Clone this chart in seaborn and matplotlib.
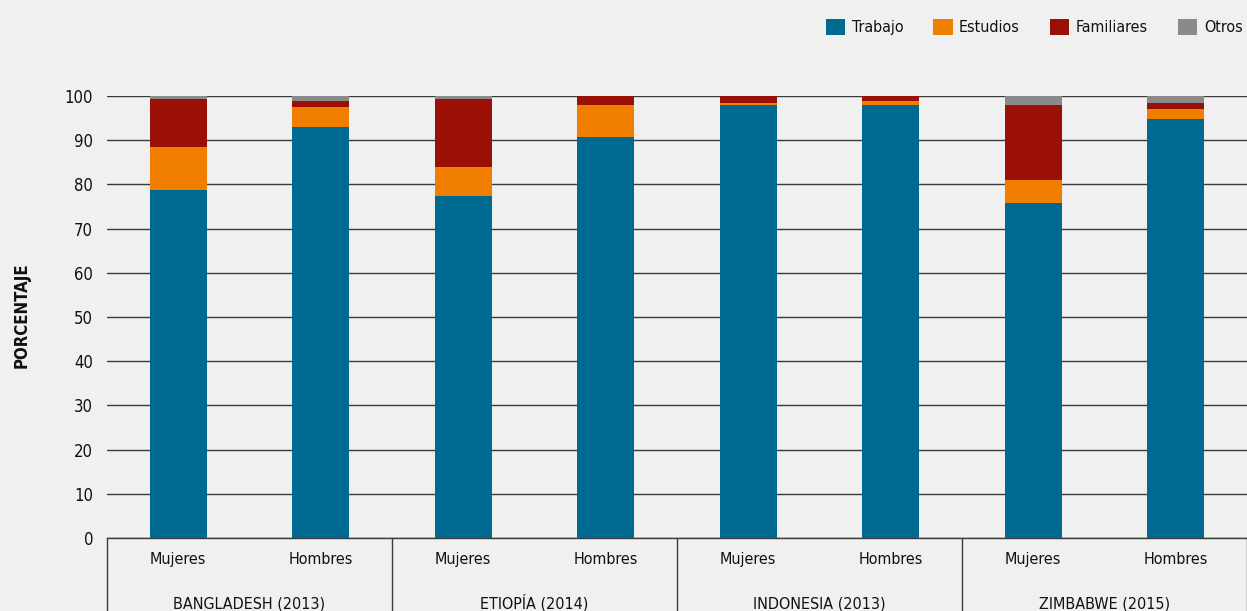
import pandas as pd
import matplotlib.pyplot as plt
import matplotlib.transforms as mtransforms
import seaborn as sns

paises = ['BANGLADESH (2013)', 'ETIOPÍA (2014)', 'INDONESIA (2013)', 'ZIMBABWE (2015)']
sexos = ['Mujeres', 'Hombres']
motivos = ['Trabajo', 'Estudios', 'Familiares', 'Otros']
colores = ['#006990', '#f07f00', '#9b1006', '#8a8a8a']

# orden: Bangladesh M, H, Etiopía M, H, Indonesia M, H, Zimbabwe M, H
trabajo = [78.7, 92.9, 77.4, 90.7, 98.0, 98.0, 75.9, 94.8]
estudios = [9.8, 4.6, 6.5, 7.3, 0.5, 0.9, 5.2, 2.3]
familiares = [10.9, 1.4, 15.5, 1.9, 1.5, 1.1, 16.9, 1.4]
otros = [0.6, 1.1, 0.6, 0.1, 0.0, 0.0, 2.0, 1.5]

barras = [p + '|' + s for p in paises for s in sexos]
df = pd.DataFrame({'barra': barras, 'Trabajo': trabajo, 'Estudios': estudios,
                   'Familiares': familiares, 'Otros': otros})
acum = df[motivos].cumsum(axis=1)
acum['barra'] = df['barra']

sns.set_style('white')
plt.rcParams['font.family'] = ['DejaVu Sans']
plt.rcParams['font.stretch'] = 'condensed'
plt.rcParams['text.color'] = '#111111'
plt.rcParams['xtick.color'] = '#111111'
plt.rcParams['ytick.color'] = '#111111'
fondo = '#f0f0f0'

fig = plt.figure(figsize=(12.47, 6.11), dpi=100, facecolor=fondo)
ax = fig.add_axes([0.0858, 0.1195, 0.9142, 0.7234])
ax.set_facecolor(fondo)

for m, c in reversed(list(zip(motivos, colores))):
    sns.barplot(data=acum, x='barra', y=m, order=barras, color=c, width=0.4,
                saturation=1, errorbar=None, ax=ax, label=m, zorder=3, linewidth=0)

ax.set_ylim(0, 100)
ax.set_xlim(-0.5, len(barras) - 0.5)
ax.set_yticks(range(0, 101, 10))
ax.yaxis.grid(True, color='#3a3a3a', linewidth=1.0, zorder=0)
ax.set_axisbelow(True)
for s in ['top', 'right', 'left']:
    ax.spines[s].set_visible(False)
ax.spines['bottom'].set_color('#3a3a3a')
ax.spines['bottom'].set_linewidth(1.0)
ax.tick_params(axis='y', length=0, pad=10, labelsize=12)
ax.set_xticks(range(len(barras)))
ax.set_xticklabels([s for p in paises for s in sexos], fontsize=11.5)
ax.tick_params(axis='x', length=0, pad=10)
ax.set_xlabel('')
ax.set_ylabel('')
fig.text(0.017, 0.4845, 'PORCENTAJE', rotation=90, ha='center', va='center',
         fontsize=12, fontweight='bold')

trans = mtransforms.blended_transform_factory(ax.transData, ax.transAxes)
for i, p in enumerate(paises):
    ax.text(2 * i + 0.5, -0.159, p, transform=trans, ha='center', va='baseline', fontsize=11.5)
for k in range(len(paises) + 1):
    ax.plot([2 * k - 0.5, 2 * k - 0.5], [0, -0.2], transform=trans, color='#3a3a3a',
            linewidth=1.0, clip_on=False)

handles, labels = ax.get_legend_handles_labels()
orden = [labels.index(m) for m in motivos]
leg = fig.legend([handles[i] for i in orden], motivos, loc='upper right',
                 bbox_to_anchor=(1.008, 0.993), ncol=4, frameon=False, fontsize=11.5,
                 handlelength=1.2, handleheight=1.2, handletextpad=0.4, columnspacing=1.9)
if ax.legend_:
    ax.legend_.remove()

fig.savefig('out.png', dpi=100, facecolor=fondo)
